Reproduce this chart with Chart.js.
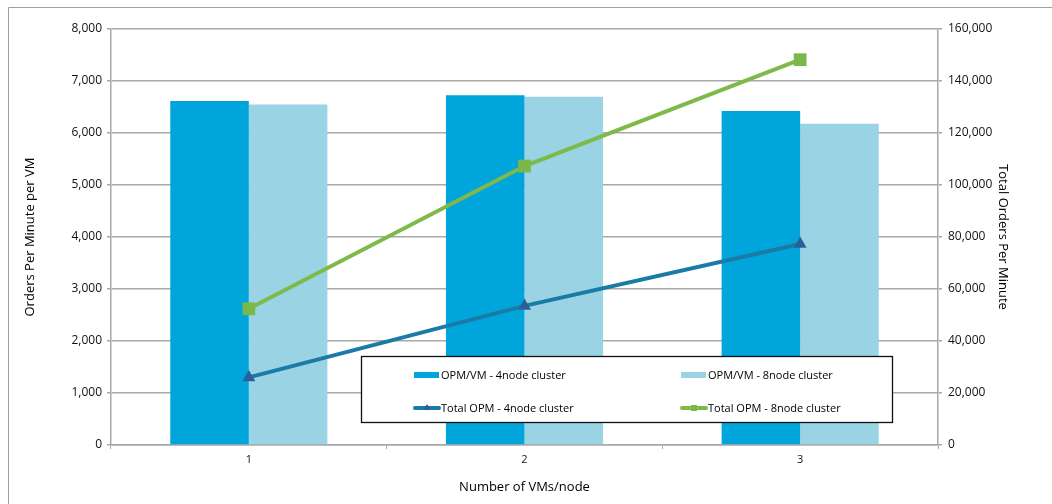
<!DOCTYPE html>
<html>
<head>
<meta charset="utf-8">
<script src="https://cdn.jsdelivr.net/npm/chart.js@4.4.1/dist/chart.umd.min.js"></script>
<style>
  html, body { margin: 0; padding: 0; background: #ffffff; }
  #wrap { width: 1052px; height: 504px; position: relative; }
</style>
</head>
<body>
<div id="wrap"><canvas id="c" width="1052" height="504"></canvas></div>
<script>
// Categories and series
const vmsPerNode = ['1', '2', '3'];
const opmPerVm4Node = [6615, 6725, 6425];
const opmPerVm8Node = [6550, 6695, 6180];
const totalOpm4Node = [26000, 53500, 77300];
const totalOpm8Node = [52400, 107300, 148200];

const seriesNames = [
  'OPM/VM - 4node cluster',
  'OPM/VM - 8node cluster',
  'Total OPM - 4node cluster',
  'Total OPM - 8node cluster'
];

const FONT = "'Open Sans', 'Liberation Sans', sans-serif";
const GRID = '#a8a8a8';
const TEXT = '#111111';
const fmt = v => Number(v).toLocaleString('en-US');

// Outer frame (left and top edge) drawn behind the chart
const framePlugin = {
  id: 'frame',
  beforeDraw(chart) {
    const ctx = chart.ctx;
    ctx.save();
    ctx.strokeStyle = '#a0a0a0';
    ctx.lineWidth = 1;
    ctx.beginPath();
    ctx.moveTo(8.5, 504);
    ctx.lineTo(8.5, 7.5);
    ctx.lineTo(1052, 7.5);
    ctx.stroke();
    ctx.restore();
  }
};

// Boxed legend placed inside the plot area
const boxLegendPlugin = {
  id: 'boxLegend',
  afterDraw(chart) {
    const ctx = chart.ctx;
    const x0 = 361, y0 = 356, x1 = 893, y1 = 423;
    ctx.save();
    ctx.fillStyle = '#ffffff';
    ctx.fillRect(x0, y0, x1 - x0, y1 - y0);
    ctx.strokeStyle = '#111111';
    ctx.lineWidth = 1.3;
    ctx.strokeRect(x0 + 0.5, y0 + 0.5, x1 - x0 - 1, y1 - y0 - 1);

    const cols = [414, 681];
    const rows = [375, 408];
    ctx.font = '11px ' + FONT;
    ctx.textBaseline = 'middle';
    ctx.textAlign = 'left';
    chart.data.datasets.forEach((ds, i) => {
      const cx = cols[i % 2];
      const cy = rows[Math.floor(i / 2)];
      if (ds.type === 'bar') {
        ctx.fillStyle = ds.backgroundColor;
        ctx.fillRect(cx, cy - 3, 25, 6);
      } else {
        ctx.strokeStyle = ds.borderColor;
        ctx.lineWidth = 4;
        ctx.lineCap = 'round';
        ctx.beginPath();
        ctx.moveTo(cx + 1, cy);
        ctx.lineTo(cx + 25, cy);
        ctx.stroke();
        ctx.fillStyle = ds.pointBackgroundColor;
        if (ds.pointStyle === 'triangle') {
          ctx.beginPath();
          ctx.moveTo(cx + 13, cy - 4);
          ctx.lineTo(cx + 16.5, cy + 2);
          ctx.lineTo(cx + 9.5, cy + 2);
          ctx.closePath();
          ctx.fill();
        } else {
          ctx.fillRect(cx + 10, cy - 3, 6, 6);
        }
      }
      ctx.fillStyle = '#000000';
      ctx.fillText(ds.label, cx + 27, cy + 0.5);
    });
    ctx.restore();
  }
};

new Chart(document.getElementById('c'), {
  data: {
    labels: vmsPerNode,
    datasets: [
      {
        type: 'bar', label: seriesNames[0], data: opmPerVm4Node, yAxisID: 'y',
        backgroundColor: '#00a6db', borderWidth: 0, order: 2,
        barPercentage: 1.0, categoryPercentage: 0.57
      },
      {
        type: 'bar', label: seriesNames[1], data: opmPerVm8Node, yAxisID: 'y',
        backgroundColor: '#9ad4e4', borderWidth: 0, order: 2,
        barPercentage: 1.0, categoryPercentage: 0.57
      },
      {
        type: 'line', label: seriesNames[2], data: totalOpm4Node, yAxisID: 'y1',
        borderColor: '#1a7ba6', borderWidth: 4, order: 1,
        pointStyle: 'triangle', pointRadius: 7.5,
        pointBackgroundColor: '#2a5f9a', pointBorderColor: '#2a5f9a', pointBorderWidth: 0,
        tension: 0, fill: false
      },
      {
        type: 'line', label: seriesNames[3], data: totalOpm8Node, yAxisID: 'y1',
        borderColor: '#7dba4a', borderWidth: 4, order: 0,
        pointStyle: 'rect', pointRadius: 9,
        pointBackgroundColor: '#7ab84a', pointBorderColor: '#7ab84a', pointBorderWidth: 0,
        tension: 0, fill: false
      }
    ]
  },
  options: {
    responsive: false,
    animation: false,
    devicePixelRatio: 1,
    layout: { padding: { left: 10, top: 29, right: 0, bottom: 0 } },
    plugins: {
      legend: { display: false },
      tooltip: { enabled: false }
    },
    scales: {
      x: {
        type: 'category',
        offset: true,
        grid: { display: true, drawOnChartArea: false, color: GRID, tickLength: 4, offset: true },
        border: { display: true, color: GRID, width: 1.5 },
        ticks: { color: TEXT, font: { family: FONT, size: 11 }, padding: 4 },
        title: {
          display: true, text: 'Number of VMs/node', color: '#000',
          font: { family: FONT, size: 13 }, padding: { top: 0, bottom: 9 }
        },
        afterFit(scale) { scale.height = 59; }
      },
      y: {
        position: 'left',
        min: 0, max: 8000,
        ticks: { stepSize: 1000, color: TEXT, font: { family: FONT, size: 12 }, padding: 5, callback: fmt },
        grid: { color: GRID, lineWidth: 1.5, tickLength: 4 },
        border: { display: true, color: GRID, width: 1.5 },
        title: {
          display: true, text: 'Orders Per Minute per VM', color: '#000',
          font: { family: FONT, size: 13 }, padding: { top: 12, bottom: 0 }
        },
        afterFit(scale) { scale.width = 101; }
      },
      y1: {
        position: 'right',
        min: 0, max: 160000,
        ticks: { stepSize: 20000, color: TEXT, font: { family: FONT, size: 12 }, padding: 6, callback: fmt },
        grid: { drawOnChartArea: false, color: GRID, lineWidth: 1.5, tickLength: 4 },
        border: { display: true, color: GRID, width: 1.5 },
        title: {
          display: true, text: 'Total Orders Per Minute', color: '#000',
          font: { family: FONT, size: 13 }, padding: { top: 41, bottom: 0 }
        },
        afterFit(scale) { scale.width = 114; }
      }
    }
  },
  plugins: [framePlugin, boxLegendPlugin]
});
</script>
</body>
</html>
